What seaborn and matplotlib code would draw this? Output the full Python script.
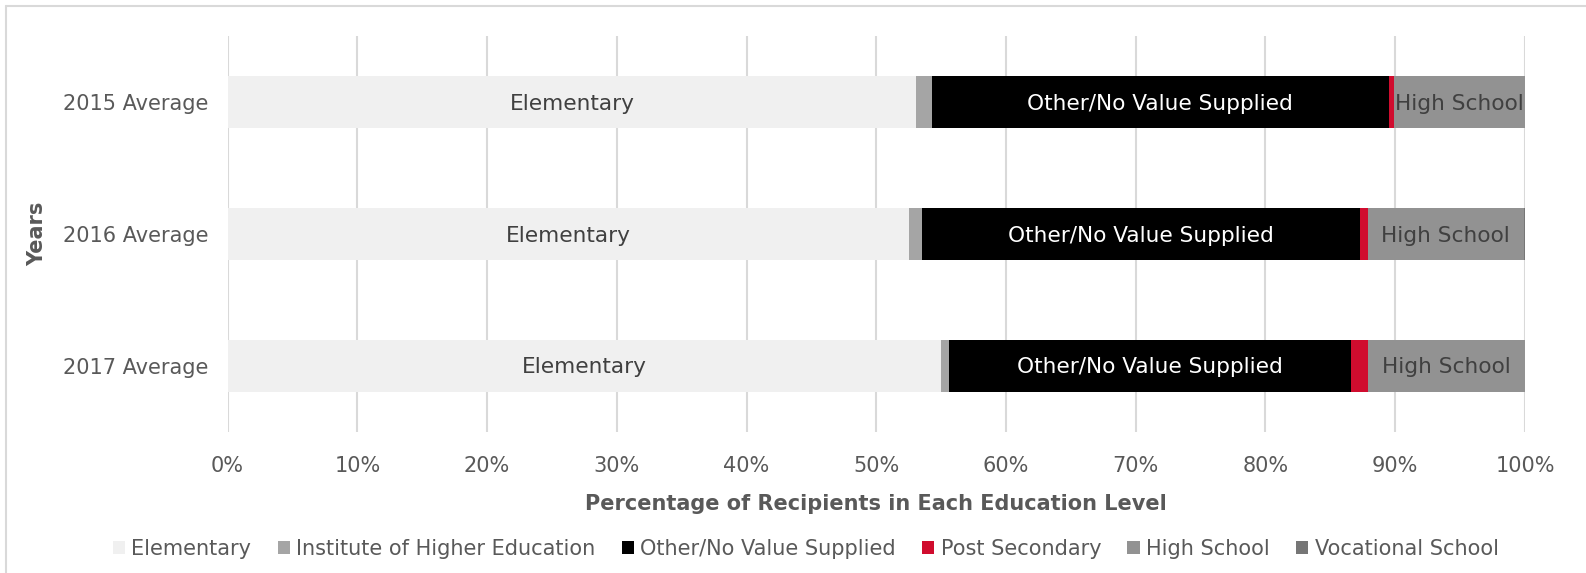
import matplotlib
matplotlib.use("Agg")
import matplotlib.pyplot as plt
from matplotlib.patches import Patch
from matplotlib.lines import Line2D
import numpy as np
import pandas as pd
import seaborn as sns

years = ["2015 Average", "2016 Average", "2017 Average"]
levels = ["Elementary", "Institute of Higher Education", "Other/No Value Supplied",
          "Post Secondary", "High School", "Vocational School"]
elementary = [53.1, 52.5, 55.0]
higher_ed = [1.2, 1.0, 0.6]
other = [35.2, 33.8, 31.0]
post_secondary = [0.4, 0.6, 1.3]
high_school = [10.1, 12.0, 12.1]
vocational = [0.0, 0.1, 0.0]

colors = ["#F0F0F0", "#A5A5A5", "#000000", "#D00C2E", "#929292", "#767676"]
labelled = {"Elementary": "#404040", "Other/No Value Supplied": "#FFFFFF", "High School": "#404040"}

series = [elementary, higher_ed, other, post_secondary, high_school, vocational]
vals = np.array(series)
cum = np.cumsum(vals, axis=0)

rows = []
for i, lvl in enumerate(levels):
    for j, yr in enumerate(years):
        rows.append({"level": lvl, "year": yr, "value": vals[i, j],
                     "end": cum[i, j], "start": cum[i, j] - vals[i, j]})
df = pd.DataFrame(rows)

sns.set_theme(style="white")
plt.rcParams["font.family"] = ["DejaVu Sans"]
FS = 15

fig = plt.figure(figsize=(15.86, 5.73), dpi=100)
ax = fig.add_axes([0.1435, 0.246, 0.818, 0.6905])

# stacked bars: draw cumulative totals from the outermost segment inwards
for i in range(len(levels) - 1, -1, -1):
    sub = df[df["level"] == levels[i]]
    sns.barplot(data=sub, x="end", y="year", order=years, color=colors[i],
                orient="h", width=0.395, errorbar=None, saturation=1,
                linewidth=0, ax=ax)

for lvl, tc in labelled.items():
    sub = df[df["level"] == lvl]
    for j, yr in enumerate(years):
        r = sub[sub["year"] == yr].iloc[0]
        ax.text((r["start"] + r["end"]) / 2, j + 0.01, lvl, ha="center", va="center",
                color=tc, fontsize=15.6)

ax.set_xlim(0, 100)
ax.set_ylim(2.5, -0.5)
ax.set_xticks(np.arange(0, 101, 10))
ax.set_xticklabels([f"{t}%" for t in range(0, 101, 10)])
ax.xaxis.grid(True, color="#D9D9D9", linewidth=1.5)
ax.set_axisbelow(True)
for s in ax.spines.values():
    s.set_visible(False)
ax.tick_params(axis="both", length=0, labelsize=FS, labelcolor="#595959")
ax.tick_params(axis="x", pad=17)
ax.tick_params(axis="y", pad=14)
ax.set_xlabel("Percentage of Recipients in Each Education Level", fontsize=FS,
              fontweight="bold", color="#595959", labelpad=13)
ax.set_ylabel("Years", fontsize=FS, fontweight="bold", color="#595959", labelpad=11)

handles = [Patch(facecolor=c, edgecolor="none", label=l) for c, l in zip(colors, levels)]
fig.legend(handles=handles, loc="center", bbox_to_anchor=(0.508, 0.042), ncol=6,
           frameon=False, fontsize=FS, handlelength=0.6, handleheight=0.6,
           handletextpad=0.3, columnspacing=1.25, labelcolor="#595959")

# chart area frame: top and left edges
fig.add_artist(Line2D([5.5 / 1586, 1.0], [1 - 6 / 573, 1 - 6 / 573],
                      transform=fig.transFigure, color="#D9D9D9", linewidth=1.5))
fig.add_artist(Line2D([5.5 / 1586, 5.5 / 1586], [0.0, 1 - 6 / 573],
                      transform=fig.transFigure, color="#D9D9D9", linewidth=1.5))

fig.savefig("out.png", dpi=100)
